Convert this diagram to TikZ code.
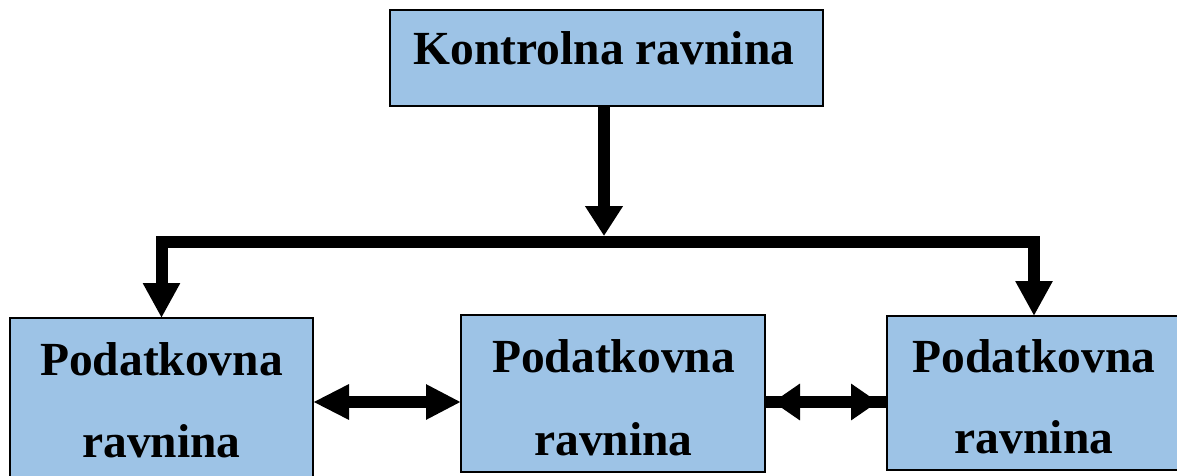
\documentclass[tikz,border=0pt]{standalone}
\usepackage{fontspec}
\setmainfont{Liberation Serif}
\usetikzlibrary{arrows.meta}
\definecolor{boxblue}{RGB}{157,195,230}
\begin{document}
\begin{tikzpicture}[x=1pt,y=-1pt,
 box/.style={draw=black, line width=1.6pt, fill=boxblue, rectangle, inner sep=0pt, outer sep=0pt},
 txt/.style={font=\fontsize{47.5}{57}\selectfont\bfseries, anchor=base, inner sep=0pt},
 conn/.style={line width=12pt, line join=miter},
 downhead/.style={-{Triangle[length=35pt,width=35pt]}},
]
\useasboundingbox (0,0) rectangle (1177,476);
% boxes
\node[box, minimum width=433pt, minimum height=96pt] (k) at (606.5,58) {};
\node[box, minimum width=303pt, minimum height=166pt] (p1) at (161.5,401) {};
\node[box, minimum width=304pt, minimum height=157pt] (p2) at (613,393.5) {};
\node[box, minimum width=294pt, minimum height=154pt] (p3) at (1034,393) {};
% texts
\node[txt] (kt) at (604,65) {Kontrolna ravnina};
\node[txt] (p1a) at (161.5,375) {Podatkovna};
\node[txt] (p1b) at (161.5,457) {ravnina};
\node[txt] (p2a) at (613.5,372) {Podatkovna};
\node[txt] (p2b) at (613.5,455) {ravnina};
\node[txt] (p3a) at (1034,372) {Podatkovna};
\node[txt] (p3b) at (1034,453) {ravnina};
% connectors
\coordinate (j) at (604,241.5);
\draw[conn, -{Triangle[length=30pt,width=36pt]}] (k.south -| j) -- ([yshift=5.5pt]j);
\draw[conn, downhead] (j) -| (p1.north);
\draw[conn, downhead] (j) -| (p3.north);
\draw[conn, {Triangle[length=36pt,width=33pt]}-{Triangle[length=35pt,width=33pt]}] (p1.east |- 0,402) -- (p2.west |- 0,402);
\draw[conn] (p2.east |- 0,402) -- (p3.west |- 0,402);
\draw[conn, shorten <=8pt, shorten >=9pt, {Triangle[length=27pt,width=35pt]}-{Triangle[length=27pt,width=35pt]}] (p2.east |- 0,402) -- (p3.west |- 0,402);
\end{tikzpicture}
\end{document}
